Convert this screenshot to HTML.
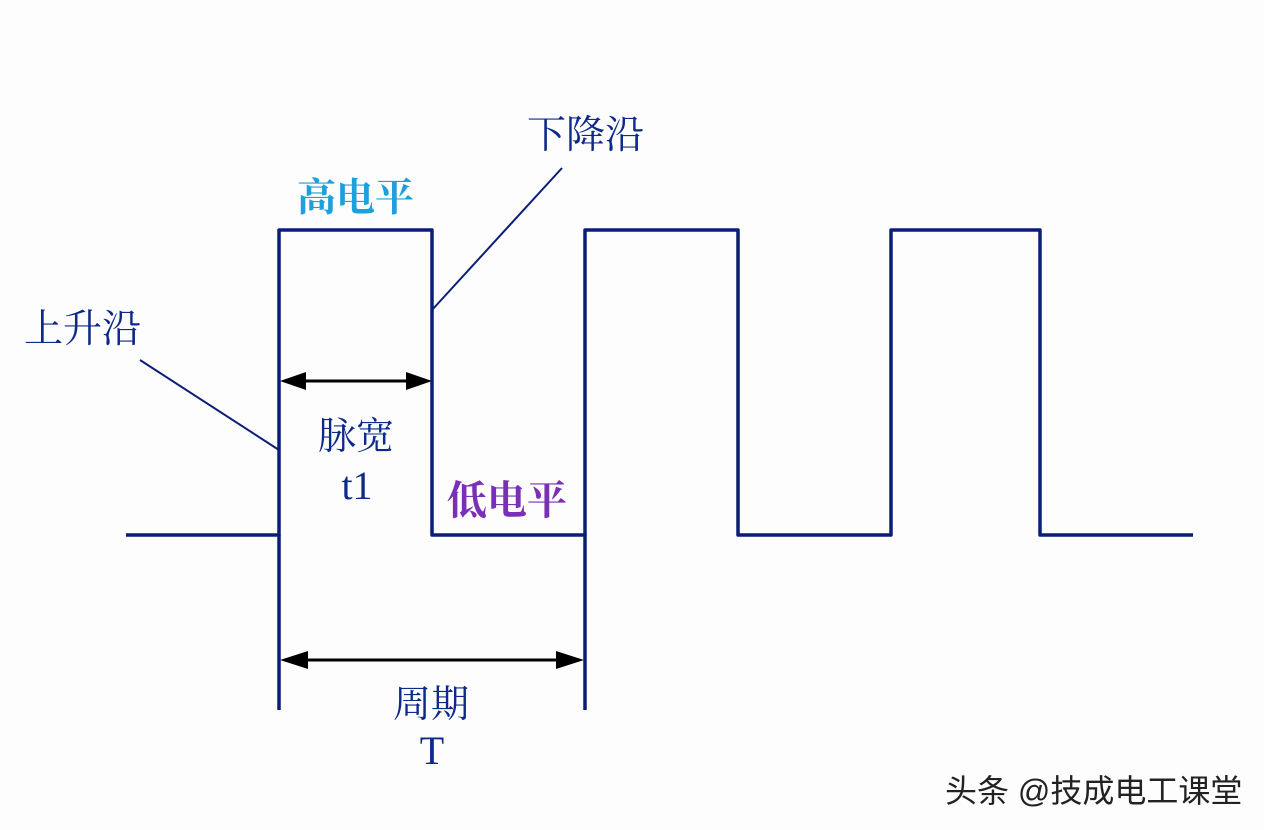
<!DOCTYPE html>
<html><head><meta charset="utf-8"><style>
html,body{margin:0;padding:0;background:#fdfdfd;}
svg{display:block}
.t{font-family:"Liberation Serif","Noto Serif CJK SC",serif;fill:#0d2a8a;}
</style></head><body>
<svg width="1264" height="830" viewBox="0 0 1264 830" xmlns="http://www.w3.org/2000/svg">
<rect width="1264" height="830" fill="#fdfdfd"/>
<g stroke="#0a1e78" stroke-width="3.5" fill="none" stroke-linejoin="round">
<polyline points="126,535 279,535 279,230 432,230 432,535 585,535 585,230 738,230 738,535 891,535 891,230 1040,230 1040,535 1193,535"/>
<line x1="279" y1="535" x2="279" y2="710"/>
<line x1="585" y1="535" x2="585" y2="710"/>
</g>
<g stroke="#0a1e78" stroke-width="2">
<line x1="140" y1="360" x2="279" y2="450"/>
<line x1="562" y1="168" x2="432" y2="310"/>
</g>
<g stroke="#000" stroke-width="3">
<line x1="295" y1="381" x2="416" y2="381"/>
<line x1="295" y1="660" x2="569" y2="660"/>
</g>
<g fill="#000">
<polygon points="280,381 306,372 306,390"/>
<polygon points="432,381 406,372 406,390"/>
<polygon points="280,660 308,651 308,669"/>
<polygon points="584,660 556,651 556,669"/>
</g>
<text class="t" x="24" y="342" font-size="39">上升沿</text>
<text class="t" x="527" y="148" font-size="39">下降沿</text>
<text x="297" y="211" font-size="39" font-weight="bold" fill="#1ea0dc" font-family="'Liberation Serif','Noto Serif CJK SC',serif">高电平</text>
<text x="447" y="514" font-size="40" font-weight="bold" fill="#7a2fb8" font-family="'Liberation Serif','Noto Serif CJK SC',serif">低电平</text>
<text class="t" x="318" y="449" font-size="38">脉宽</text>
<text class="t" x="357" y="499" font-size="40" text-anchor="middle">t1</text>
<text class="t" x="393" y="717" font-size="38">周期</text>
<text class="t" x="432" y="764" font-size="40" text-anchor="middle">T</text>
<text x="945" y="802" font-size="32" fill="#222" font-family="'Liberation Sans','Noto Sans CJK SC',sans-serif">头条 @技成电工课堂</text>
</svg>
</body></html>
